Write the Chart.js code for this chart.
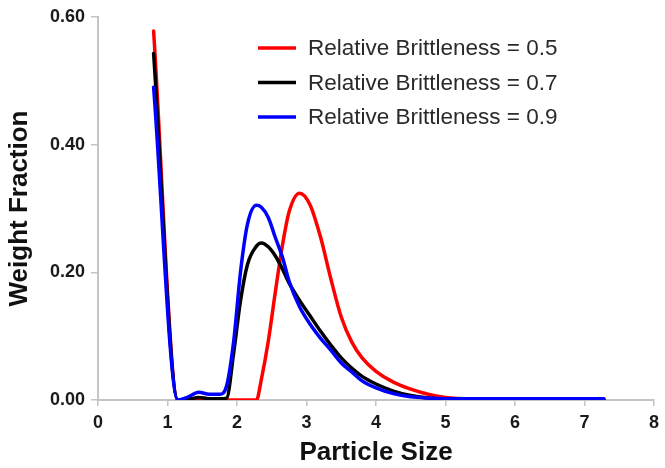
<!DOCTYPE html>
<html>
<head>
<meta charset="utf-8">
<title>Particle Size Distribution</title>
<script src="https://cdn.jsdelivr.net/npm/chart.js@4.4.0/dist/chart.umd.min.js"></script>
<style>
  html, body { margin: 0; padding: 0; background: #fff; }
  #wrap { width: 665px; height: 468px; }
</style>
</head>
<body>
<div id="wrap"><canvas id="psdChart" width="665" height="468"></canvas></div>
<script>
// particle size grid shared by all three curves
const sizes = [0.8, 1.15, 1.3, 1.45, 1.6, 1.75, 1.85, 1.95, 2.05, 2.15, 2.28, 2.35, 2.45, 2.55, 2.65, 2.75, 2.9, 3.05, 3.2, 3.35, 3.5, 3.65, 3.8, 4.0, 4.25, 4.5, 4.75, 5.0, 5.5, 6.0, 6.5, 7.28];

// weight fraction for each relative brittleness
const brittle05 = [0.578, 0, 0, 0, 0, 0, 0, 0, 0, 0, 0, 0.032, 0.092, 0.168, 0.240, 0.295, 0.324, 0.306, 0.256, 0.190, 0.130, 0.091, 0.066, 0.045, 0.028, 0.017, 0.009, 0.004, 0.001, 0, 0, 0];
const brittle07 = [0.543, 0, 0.001, 0.004, 0.002, 0.002, 0.003, 0.072, 0.155, 0.212, 0.241, 0.246, 0.240, 0.226, 0.206, 0.183, 0.156, 0.132, 0.108, 0.086, 0.066, 0.050, 0.037, 0.025, 0.014, 0.007, 0.003, 0.001, 0, 0, 0, 0];
const brittle09 = [0.490, 0, 0.005, 0.012, 0.009, 0.009, 0.022, 0.090, 0.200, 0.275, 0.305, 0.302, 0.286, 0.255, 0.225, 0.186, 0.146, 0.119, 0.097, 0.078, 0.058, 0.044, 0.030, 0.019, 0.010, 0.005, 0.003, 0.002, 0.002, 0.002, 0.002, 0.002];

const seriesLabels = ['Relative Brittleness = 0.5', 'Relative Brittleness = 0.7', 'Relative Brittleness = 0.9'];
const seriesColors = ['#ff0000', '#000000', '#0000ff'];

const xTicks = [0, 1, 2, 3, 4, 5, 6, 7, 8];
const yTicks = [0, 0.2, 0.4, 0.6];

const FONT = '"Liberation Sans", Arial, sans-serif';
const AXIS_GREY = '#c4c4c4';

function toPoints(values) {
  return values.map((v, i) => ({ x: sizes[i], y: v }));
}

function makeDataset(i, values) {
  return {
    label: seriesLabels[i],
    data: toPoints(values),
    borderColor: seriesColors[i],
    backgroundColor: seriesColors[i],
    borderWidth: 3.5,
    pointRadius: 0,
    cubicInterpolationMode: 'monotone',
    borderCapStyle: 'round',
    borderJoinStyle: 'round',
    fill: false,
    order: 2 - i   // blue on top
  };
}

// legend drawn inside the plot, upper right
const insideLegend = {
  id: 'insideLegend',
  afterDatasetsDraw(chart) {
    const ctx = chart.ctx;
    const area = chart.chartArea;
    const x0 = area.left + 160;
    ctx.save();
    ctx.font = '22.5px ' + FONT;
    ctx.textBaseline = 'middle';
    ctx.textAlign = 'left';
    chart.data.datasets.forEach((ds, i) => {
      const y = area.top + 31 + i * 34.5;
      ctx.strokeStyle = ds.borderColor;
      ctx.lineWidth = 3.5;
      ctx.beginPath();
      ctx.moveTo(x0, y);
      ctx.lineTo(x0 + 38, y);
      ctx.stroke();
      ctx.fillStyle = '#2a2a2a';
      ctx.fillText(ds.label, x0 + 50, y + 1);
    });
    ctx.restore();
  }
};

function createChart() {
  const ctx = document.getElementById('psdChart').getContext('2d');
  new Chart(ctx, {
    type: 'line',
    data: {
      datasets: [
        makeDataset(0, brittle05),
        makeDataset(1, brittle07),
        makeDataset(2, brittle09)
      ]
    },
    options: {
      responsive: false,
      animation: false,
      layout: {
        padding: { top: 17, right: 8, left: 0, bottom: 0 }
      },
      scales: {
        x: {
          type: 'linear',
          min: xTicks[0],
          max: xTicks[xTicks.length - 1],
          afterFit: (scale) => { scale.height = 68; },
          afterBuildTicks: (scale) => { scale.ticks = xTicks.map(v => ({ value: v })); },
          border: { display: true, color: AXIS_GREY, width: 2 },
          grid: { drawOnChartArea: false, drawTicks: true, tickLength: 6, color: AXIS_GREY, lineWidth: 1.5 },
          ticks: {
            padding: 6,
            color: '#1a1a1a',
            font: { family: FONT, size: 18, weight: 'bold' },
            callback: (v) => String(v)
          },
          title: {
            display: true,
            text: 'Particle Size',
            color: '#111',
            padding: { top: 0, bottom: 0 },
            font: { family: FONT, size: 26, weight: 'bold' }
          }
        },
        y: {
          min: yTicks[0],
          max: yTicks[yTicks.length - 1],
          afterFit: (scale) => { scale.width = 98; },
          afterBuildTicks: (scale) => { scale.ticks = yTicks.map(v => ({ value: v })); },
          border: { display: true, color: AXIS_GREY, width: 2 },
          grid: { drawOnChartArea: false, drawTicks: true, tickLength: 7, color: AXIS_GREY, lineWidth: 1.5 },
          ticks: {
            padding: 6,
            color: '#1a1a1a',
            font: { family: FONT, size: 18, weight: 'bold' },
            callback: (v) => v.toFixed(2)
          },
          title: {
            display: true,
            text: 'Weight Fraction',
            color: '#111',
            padding: { top: 4, bottom: 0 },
            font: { family: FONT, size: 26, weight: 'bold' }
          }
        }
      },
      plugins: {
        legend: { display: false },
        tooltip: { enabled: false }
      }
    },
    plugins: [insideLegend]
  });
}

window.onload = () => {
  createChart();
};
</script>
</body>
</html>
